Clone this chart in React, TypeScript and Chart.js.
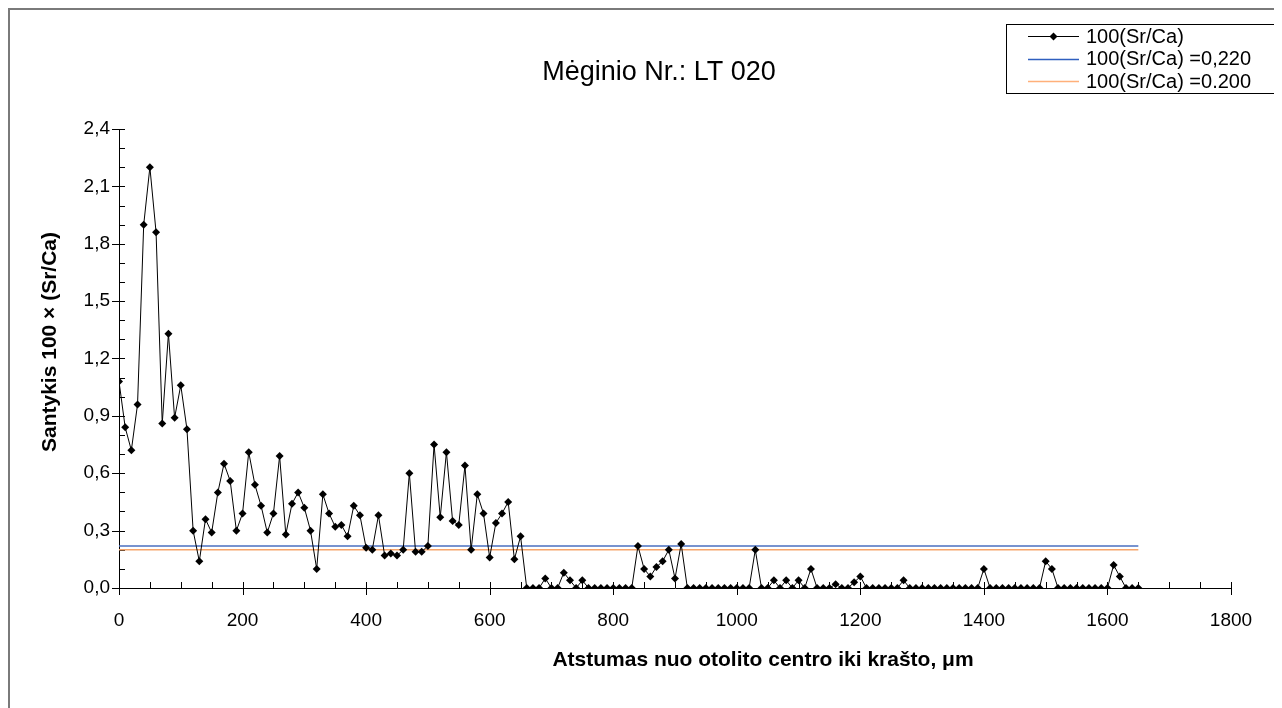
import React, { useEffect, useRef } from "react";
import { Chart, registerables } from "chart.js";

Chart.register(...registerables);

const FONT = "'Liberation Sans', Arial, sans-serif";

// Distance from otolith centre, µm
const distances = [
  0, 10, 20, 30, 40, 50, 60, 70, 80, 90,
  100, 110, 120, 130, 140, 150, 160, 170, 180, 190,
  200, 210, 220, 230, 240, 250, 260, 270, 280, 290,
  300, 310, 320, 330, 340, 350, 360, 370, 380, 390,
  400, 410, 420, 430, 440, 450, 460, 470, 480, 490,
  500, 510, 520, 530, 540, 550, 560, 570, 580, 590,
  600, 610, 620, 630, 640, 650, 660, 670, 680, 690,
  700, 710, 720, 730, 740, 750, 760, 770, 780, 790,
  800, 810, 820, 830, 840, 850, 860, 870, 880, 890,
  900, 910, 920, 930, 940, 950, 960, 970, 980, 990,
  1000, 1010, 1020, 1030, 1040, 1050, 1060, 1070, 1080, 1090,
  1100, 1110, 1120, 1130, 1140, 1150, 1160, 1170, 1180, 1190,
  1200, 1210, 1220, 1230, 1240, 1250, 1260, 1270, 1280, 1290,
  1300, 1310, 1320, 1330, 1340, 1350, 1360, 1370, 1380, 1390,
  1400, 1410, 1420, 1430, 1440, 1450, 1460, 1470, 1480, 1490,
  1500, 1510, 1520, 1530, 1540, 1550, 1560, 1570, 1580, 1590,
  1600, 1610, 1620, 1630, 1640, 1650,
];

// 100(Sr/Ca)
const srCa = [
  1.08, 0.84, 0.72, 0.96, 1.90, 2.20, 1.86, 0.86, 1.33, 0.89,
  1.06, 0.83, 0.30, 0.14, 0.36, 0.29, 0.50, 0.65, 0.56, 0.30,
  0.39, 0.71, 0.54, 0.43, 0.29, 0.39, 0.69, 0.28, 0.44, 0.50,
  0.42, 0.30, 0.10, 0.49, 0.39, 0.32, 0.33, 0.27, 0.43, 0.38,
  0.21, 0.20, 0.38, 0.17, 0.18, 0.17, 0.20, 0.60, 0.19, 0.19,
  0.22, 0.75, 0.37, 0.71, 0.35, 0.33, 0.64, 0.20, 0.49, 0.39,
  0.16, 0.34, 0.39, 0.45, 0.15, 0.27, 0.00, 0.00, 0.00, 0.05,
  0.00, 0.00, 0.08, 0.04, 0.00, 0.04, 0.00, 0.00, 0.00, 0.00,
  0.00, 0.00, 0.00, 0.00, 0.22, 0.10, 0.06, 0.11, 0.14, 0.20,
  0.05, 0.23, 0.00, 0.00, 0.00, 0.00, 0.00, 0.00, 0.00, 0.00,
  0.00, 0.00, 0.00, 0.20, 0.00, 0.00, 0.04, 0.00, 0.04, 0.00,
  0.04, 0.00, 0.10, 0.00, 0.00, 0.00, 0.02, 0.00, 0.00, 0.03,
  0.06, 0.00, 0.00, 0.00, 0.00, 0.00, 0.00, 0.04, 0.00, 0.00,
  0.00, 0.00, 0.00, 0.00, 0.00, 0.00, 0.00, 0.00, 0.00, 0.00,
  0.10, 0.00, 0.00, 0.00, 0.00, 0.00, 0.00, 0.00, 0.00, 0.00,
  0.14, 0.10, 0.00, 0.00, 0.00, 0.00, 0.00, 0.00, 0.00, 0.00,
  0.00, 0.12, 0.06, 0.00, 0.00, 0.00,
];

const refX = [0, 1650];
const refHigh = [0.22, 0.22];
const refLow = [0.2, 0.2];

const seriesLabels = ["100(Sr/Ca)", "100(Sr/Ca) =0,220", "100(Sr/Ca) =0.200"];
const seriesColors = ["#000000", "#4a6fbf", "#f6a56c"];

const chartTitle = "Mėginio Nr.: LT 020";
const xTitle = "Atstumas nuo otolito centro iki krašto, μm";
const yTitle = "Santykis 100 × (Sr/Ca)";

const xTicks = [0, 200, 400, 600, 800, 1000, 1200, 1400, 1600, 1800];
const xTickLabels = ["0", "200", "400", "600", "800", "1000", "1200", "1400", "1600", "1800"];
const yTicks = [0, 0.3, 0.6, 0.9, 1.2, 1.5, 1.8, 2.1, 2.4];
const yTickLabels = ["0,0", "0,3", "0,6", "0,9", "1,2", "1,5", "1,8", "2,1", "2,4"];
const xMinorStep = 50;
const yMinorStep = 0.1;

const decorPlugin = {
  id: "decor",
  beforeDatasetsDraw(chart: any) {
    const { ctx, chartArea } = chart;
    const x = chart.scales.x;
    const y = chart.scales.y;
    ctx.save();
    ctx.strokeStyle = "#000";
    ctx.lineWidth = 1;
    ctx.beginPath();
    const xmax = x.max;
    for (let i = 0; i * xMinorStep <= xmax + 1e-6; i++) {
      const v = i * xMinorStep;
      const px = Math.round(x.getPixelForValue(v)) + 0.5;
      const major = xTicks.some((t) => Math.abs(t - v) < 1e-6);
      ctx.moveTo(px, chartArea.bottom - 6);
      ctx.lineTo(px, chartArea.bottom + (major ? 7 : 0));
    }
    const ymax = y.max;
    for (let i = 0; i * yMinorStep <= ymax + 1e-6; i++) {
      const v = i * yMinorStep;
      const py = Math.round(y.getPixelForValue(v)) + 0.5;
      const major = yTicks.some((t) => Math.abs(t - v) < 1e-6);
      ctx.moveTo(chartArea.left + 6, py);
      ctx.lineTo(chartArea.left - (major ? 7 : 0), py);
    }
    ctx.stroke();
    ctx.restore();
  },
  afterDraw(chart: any) {
    const { ctx } = chart;
    ctx.save();
    ctx.fillStyle = "#000";
    // chart title
    ctx.font = `27px ${FONT}`;
    ctx.textAlign = "center";
    ctx.textBaseline = "middle";
    ctx.fillText(chartTitle, 649, 63);
    // x-axis title
    ctx.font = `bold 21px ${FONT}`;
    ctx.fillText(xTitle, 753, 650);
    // y-axis title
    ctx.save();
    ctx.translate(40, 332);
    ctx.rotate(-Math.PI / 2);
    ctx.fillText(yTitle, 0, 0);
    ctx.restore();

    // legend
    const bx = 996.5, by = 14.5, bw = 271, bh = 69;
    ctx.fillStyle = "#fff";
    ctx.fillRect(bx, by, bw, bh);
    ctx.strokeStyle = "#000";
    ctx.lineWidth = 1;
    ctx.strokeRect(bx, by, bw, bh);
    const rows = [26, 48.5, 71];
    ctx.font = `20px ${FONT}`;
    ctx.textAlign = "left";
    ctx.textBaseline = "middle";
    seriesLabels.forEach((lab, i) => {
      const ry = rows[i];
      ctx.strokeStyle = i === 2 ? "#ffb07a" : i === 1 ? "#2f5fbf" : seriesColors[i];
      ctx.lineWidth = i === 0 ? 1 : 1.5;
      ctx.beginPath();
      ctx.moveTo(1018, Math.round(ry) + 0.5);
      ctx.lineTo(1069, Math.round(ry) + 0.5);
      ctx.stroke();
      if (i === 0) {
        ctx.fillStyle = "#000";
        ctx.beginPath();
        const cx = 1043.5, cy = Math.round(ry) + 0.5, r = 4;
        ctx.moveTo(cx, cy - r);
        ctx.lineTo(cx + r, cy);
        ctx.lineTo(cx, cy + r);
        ctx.lineTo(cx - r, cy);
        ctx.closePath();
        ctx.fill();
      }
      ctx.fillStyle = "#000";
      ctx.fillText(lab, 1076, ry + 1);
    });
    ctx.restore();
  },
};

export default function App() {
  const canvasRef = useRef<HTMLCanvasElement | null>(null);

  useEffect(() => {
    const canvas = canvasRef.current;
    if (!canvas) return;
    Chart.defaults.font.family = FONT;
    const mainData = distances.map((d, i) => ({ x: d, y: srCa[i] }));
    const highData = refX.map((d, i) => ({ x: d, y: refHigh[i] }));
    const lowData = refX.map((d, i) => ({ x: d, y: refLow[i] }));

    const chart = new Chart(canvas, {
      type: "line",
      data: {
        datasets: [
          {
            label: seriesLabels[0],
            data: mainData,
            borderColor: seriesColors[0],
            borderWidth: 1,
            backgroundColor: "#000",
            pointStyle: "rectRot",
            pointRadius: 4,
            pointBorderWidth: 0,
            pointBackgroundColor: "#000",
            tension: 0,
            fill: false,
          },
          {
            label: seriesLabels[1],
            data: highData,
            borderColor: seriesColors[1],
            borderWidth: 1.5,
            pointRadius: 0,
            fill: false,
          },
          {
            label: seriesLabels[2],
            data: lowData,
            borderColor: seriesColors[2],
            borderWidth: 1.5,
            pointRadius: 0,
            fill: false,
          },
        ],
      },
      plugins: [decorPlugin],
      options: {
        responsive: false,
        animation: false,
        devicePixelRatio: 1,
        layout: { padding: { left: 0, right: 51, top: 119, bottom: 80 } },
        plugins: {
          legend: { display: false },
          title: { display: false },
          tooltip: { enabled: false },
        },
        scales: {
          x: {
            type: "linear",
            min: 0,
            max: 1800,
            grid: { display: false, drawTicks: false },
            border: { display: true, color: "#000", width: 1 },
            afterBuildTicks: (scale: any) => {
              scale.ticks = xTicks.map((v) => ({ value: v }));
            },
            afterFit: (scale: any) => {
              scale.height = 40;
            },
            ticks: {
              autoSkip: false,
              maxRotation: 0,
              padding: 21,
              color: "#000",
              font: { size: 19, family: FONT },
              callback: (_v: any, i: number) => xTickLabels[i],
            },
          },
          y: {
            type: "linear",
            min: 0,
            max: 2.4,
            grid: { display: false, drawTicks: false },
            border: { display: true, color: "#000", width: 1 },
            afterBuildTicks: (scale: any) => {
              scale.ticks = yTicks.map((v) => ({ value: v }));
            },
            afterFit: (scale: any) => {
              scale.width = 109;
            },
            ticks: {
              autoSkip: false,
              padding: 9,
              color: "#000",
              font: { size: 19, family: FONT },
              callback: (_v: any, i: number) => yTickLabels[i],
            },
          },
        },
      },
    });
    return () => chart.destroy();
  }, []);

  return (
    <div
      style={{
        width: 1272,
        height: 698,
        borderLeft: "2px solid #7a7a7a",
        borderTop: "2px solid #7a7a7a",
      }}
    >
      <canvas ref={canvasRef} width={1272} height={698} style={{ display: "block" }} />
    </div>
  );
}
